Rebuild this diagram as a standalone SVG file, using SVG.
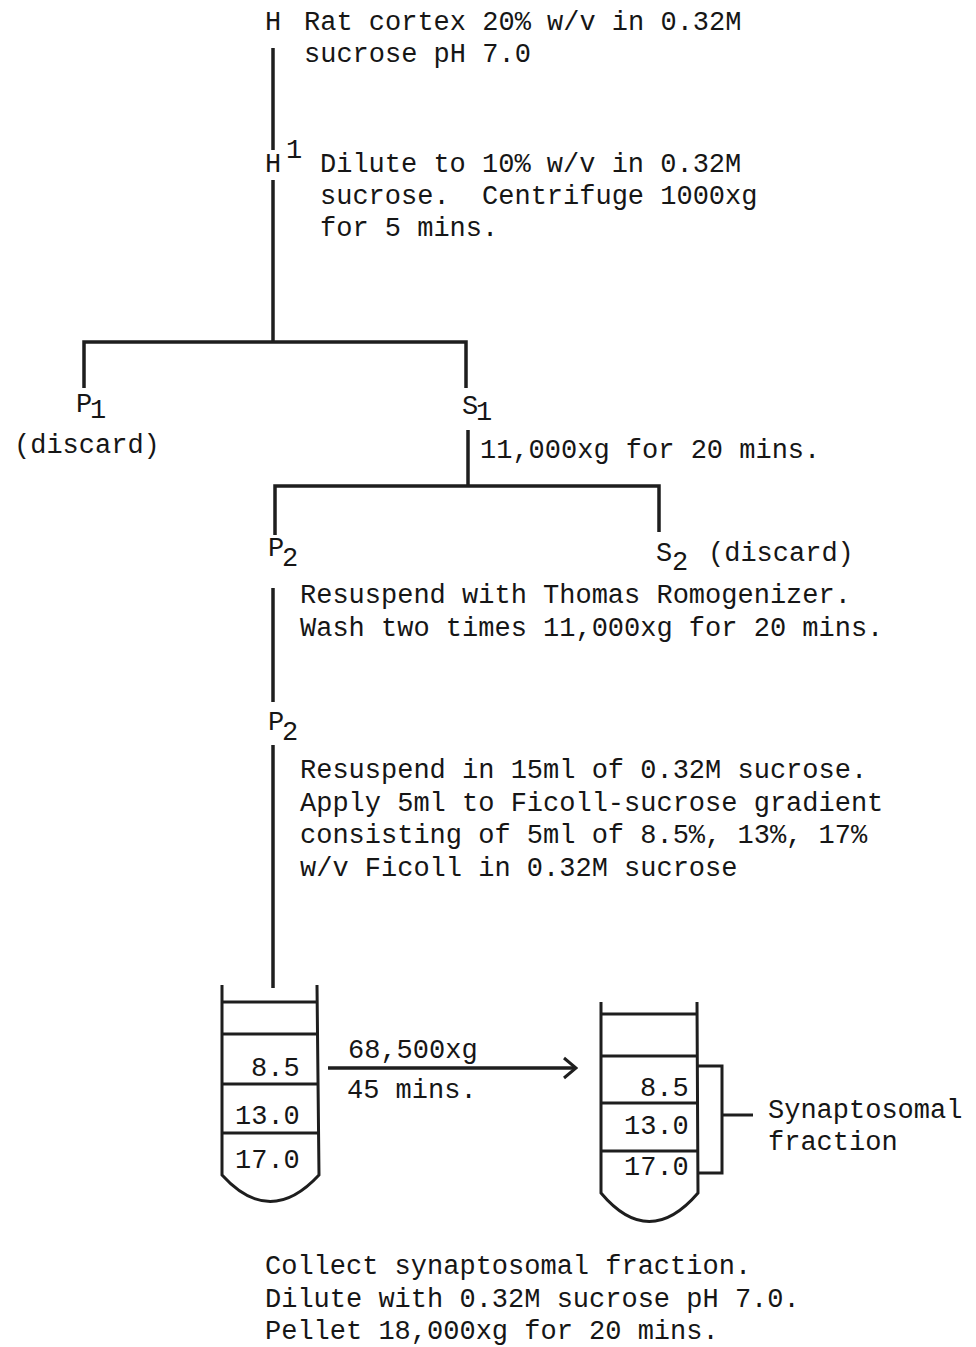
<svg xmlns="http://www.w3.org/2000/svg" width="976" height="1347" viewBox="0 0 976 1347">
<style>
text{font-family:"Liberation Mono","Courier New",monospace;font-size:27px;fill:#161616;white-space:pre}
.ln{stroke:#1e1e1e;stroke-width:3.5;fill:none;stroke-linecap:butt}
.tb{stroke:#1e1e1e;stroke-width:3;fill:none}
</style>
<defs>
<marker id="chev" markerWidth="24" markerHeight="24" refX="22" refY="12" orient="auto" markerUnits="userSpaceOnUse">
<path d="M10,2 L22,12 L10,22" fill="none" stroke="#1e1e1e" stroke-width="3"/>
</marker>
</defs>
<rect width="976" height="1347" fill="#fff"/>
<g id="connectors">
<line class="ln" x1="273" y1="48" x2="273" y2="150"/>
<line class="ln" x1="273" y1="180" x2="273" y2="342"/>
<polyline class="ln" points="84,388 84,342 466,342 466,388"/>
<line class="ln" x1="468" y1="430" x2="468" y2="486"/>
<polyline class="ln" points="275,535 275,486 659,486 659,532"/>
<line class="ln" x1="273" y1="588" x2="273" y2="702"/>
<line class="ln" x1="273" y1="745" x2="273" y2="988"/>
<line class="ln" x1="328" y1="1068" x2="576" y2="1068" marker-end="url(#chev)"/>
</g>
<g id="node-H">
<text x="265" y="30">H</text>
<text x="304" y="30">Rat cortex 20% w/v in 0.32M</text>
<text x="304" y="62">sucrose pH 7.0</text>
</g>
<g id="node-H1">
<text x="265" y="172">H</text>
<text x="286" y="158">1</text>
<text x="320" y="172">Dilute to 10% w/v in 0.32M</text>
<text x="320" y="204" xml:space="preserve">sucrose.  Centrifuge 1000xg</text>
<text x="320" y="236">for 5 mins.</text>
</g>
<g id="node-P1">
<text x="76" y="412">P</text>
<text x="90" y="418">1</text>
<text x="14" y="453">(discard)</text>
</g>
<g id="node-S1">
<text x="462" y="414">S</text>
<text x="476" y="420">1</text>
<text x="480" y="458">11,000xg for 20 mins.</text>
</g>
<g id="node-P2a">
<text x="268" y="556">P</text>
<text x="282" y="566">2</text>
<text x="300" y="603">Resuspend with Thomas Romogenizer.</text>
<text x="300" y="636">Wash two times 11,000xg for 20 mins.</text>
</g>
<g id="node-S2">
<text x="656" y="561">S</text>
<text x="672" y="570">2</text>
<text x="708" y="561">(discard)</text>
</g>
<g id="node-P2b">
<text x="268" y="730">P</text>
<text x="282" y="740">2</text>
<text x="300" y="778">Resuspend in 15ml of 0.32M sucrose.</text>
<text x="300" y="811">Apply 5ml to Ficoll-sucrose gradient</text>
<text x="300" y="843">consisting of 5ml of 8.5%, 13%, 17%</text>
<text x="300" y="876">w/v Ficoll in 0.32M sucrose</text>
</g>
<g id="node-tube1">
<path class="tb" d="M222,985 L222,1175 Q270,1228 319,1175 L317,985"/>
<line class="tb" x1="222" y1="1002" x2="317" y2="1002"/>
<line class="tb" x1="222" y1="1034" x2="317" y2="1034"/>
<line class="tb" x1="222" y1="1084" x2="317" y2="1084"/>
<line class="tb" x1="222" y1="1133" x2="318" y2="1133"/>
<text x="251" y="1076">8.5</text>
<text x="235" y="1124">13.0</text>
<text x="235" y="1168">17.0</text>
</g>
<g id="label-centrifuge">
<text x="348" y="1058">68,500xg</text>
<text x="347" y="1098">45 mins.</text>
</g>
<g id="node-tube2">
<path class="tb" d="M601,1002 L601,1193 Q649,1250 698,1193 L697,1002"/>
<line class="tb" x1="601" y1="1014" x2="697" y2="1014"/>
<line class="tb" x1="601" y1="1056" x2="697" y2="1056"/>
<line class="tb" x1="601" y1="1103" x2="697" y2="1103"/>
<line class="tb" x1="601" y1="1151" x2="697" y2="1151"/>
<text x="640" y="1096">8.5</text>
<text x="624" y="1134">13.0</text>
<text x="624" y="1175">17.0</text>
<polyline class="tb" points="697,1066 722,1066 722,1173 697,1173"/>
<line class="tb" x1="722" y1="1115" x2="753" y2="1115"/>
<text x="768" y="1118">Synaptosomal</text>
<text x="768" y="1150">fraction</text>
</g>
<g id="node-final">
<text x="265" y="1274">Collect synaptosomal fraction.</text>
<text x="265" y="1307">Dilute with 0.32M sucrose pH 7.0.</text>
<text x="265" y="1339">Pellet 18,000xg for 20 mins.</text>
</g>
</svg>
